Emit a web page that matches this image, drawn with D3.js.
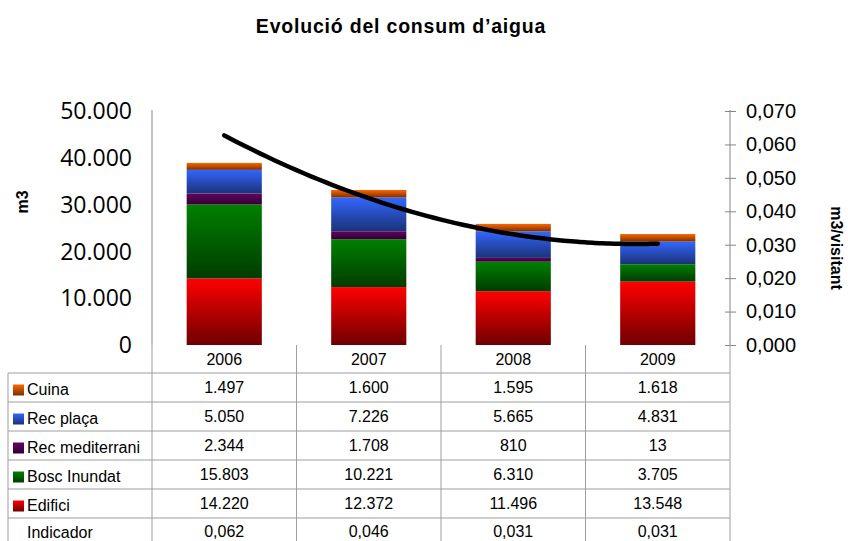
<html>
<head>
<meta charset="utf-8">
<title>Evolució del consum d'aigua</title>
<style>
  body { margin: 0; background: #fff; }
  svg { display: block; }
</style>
</head>
<body>
<svg></svg>
<script src="https://d3js.org/d3.v7.min.js"></script>
<script>
// chart data
var years = ["2006", "2007", "2008", "2009"];
var series = ["Edifici", "Bosc Inundat", "Rec mediterrani", "Rec plaça", "Cuina"];
var edifici = [14220, 12372, 11496, 13548];
var bosc = [15803, 10221, 6310, 3705];
var recMed = [2344, 1708, 810, 13];
var recPlaca = [5050, 7226, 5665, 4831];
var cuina = [1497, 1600, 1595, 1618];
var indicador = [0.062, 0.046, 0.031, 0.031];
var leftTicks = [0, 10000, 20000, 30000, 40000, 50000];
var rightTicks = [0, 0.01, 0.02, 0.03, 0.04, 0.05, 0.06, 0.07];

// colours: [top, bottom] of each gradient
var colours = {
  "Edifici": ["#ff0000", "#6e0000"],
  "Bosc Inundat": ["#008000", "#003c00"],
  "Rec mediterrani": ["#660066", "#30002f"],
  "Rec plaça": ["#3366ff", "#1a3275"],
  "Cuina": ["#ff6600", "#7a3000"]
};

var width = 848, height = 541;
var svg = d3.select("svg").attr("width", width).attr("height", height);

var margin = {left: 152, right: 118, top: 111, bottom: 196};
var plotBottom = height - margin.bottom;

var x = d3.scaleBand().domain(years).range([margin.left, width - margin.right]);
var y = d3.scaleLinear().domain([0, 50000]).range([plotBottom, margin.top]);
var y2 = d3.scaleLinear().domain([0, 0.07]).range([plotBottom, margin.top]);

// gradients
var defs = svg.append("defs");
series.forEach(function(s, i) {
  var g = defs.append("linearGradient").attr("id", "grad" + i)
    .attr("x1", 0).attr("y1", 0).attr("x2", 0).attr("y2", 1);
  g.append("stop").attr("offset", "0%").attr("stop-color", colours[s][0]);
  g.append("stop").attr("offset", "100%").attr("stop-color", colours[s][1]);
});

var arial = "Liberation Sans, Arial, sans-serif";

// title
svg.append("text")
  .attr("x", 401).attr("y", 33)
  .attr("text-anchor", "middle")
  .style("font-family", arial)
  .style("font-size", "19.5px").style("font-weight", "bold")
  .style("letter-spacing", "0.8px")
  .text("Evolució del consum d’aigua");

// stacked bars
var rows = years.map(function(yr, i) {
  return {year: yr, "Edifici": edifici[i], "Bosc Inundat": bosc[i],
    "Rec mediterrani": recMed[i], "Rec plaça": recPlaca[i], "Cuina": cuina[i]};
});
var stacked = d3.stack().keys(series)(rows);
var barW = x.bandwidth() * 0.52;

svg.append("g").selectAll("g")
  .data(stacked)
  .enter().append("g")
  .attr("fill", function(d, i) { return "url(#grad" + i + ")"; })
  .selectAll("rect")
  .data(function(d) { return d; })
  .enter().append("rect")
  .attr("x", function(d) { return x(d.data.year) + (x.bandwidth() - barW) / 2; })
  .attr("width", barW)
  .attr("y", function(d) { return y(d[1]); })
  .attr("height", function(d) { return y(d[0]) - y(d[1]); });

// left axis
var axisColor = "#868686";
svg.append("line")
  .attr("x1", margin.left).attr("x2", margin.left)
  .attr("y1", margin.top - 1).attr("y2", plotBottom)
  .attr("stroke", axisColor);
svg.append("g").selectAll("text")
  .data(leftTicks)
  .enter().append("text")
  .attr("x", 132).attr("y", function(d) { return y(d); })
  .attr("dy", "0.36em")
  .attr("text-anchor", "end")
  .style("font-family", "Open Sans, sans-serif")
  .style("font-size", "23px")
  .text(function(d) { return d3.format(",")(d).replace(/,/g, "."); });

svg.append("text")
  .attr("transform", "translate(28,202) rotate(-90)")
  .attr("text-anchor", "middle")
  .style("font-family", arial)
  .style("font-size", "16px").style("font-weight", "bold")
  .text("m3");

// right axis
var rightX = width - margin.right;
var rightAxis = d3.axisRight(y2).tickValues(rightTicks).tickSize(0)
  .tickFormat(function(d) { return d3.format(".3f")(d).replace(".", ","); });
var ra = svg.append("g").attr("transform", "translate(" + rightX + ",0)").call(rightAxis);
ra.select(".domain").attr("stroke", axisColor).attr("d", "M0," + (margin.top - 1) + "V" + plotBottom);
ra.selectAll(".tick line").attr("x1", -5).attr("x2", 6).attr("stroke", axisColor);
ra.selectAll(".tick text").attr("x", 16)
  .style("font-family", arial)
  .style("font-size", "20px").attr("fill", "#000");

svg.append("text")
  .attr("transform", "translate(831,248) rotate(90)")
  .attr("text-anchor", "middle")
  .style("font-family", arial)
  .style("font-size", "16px").style("font-weight", "bold")
  .text("m3/visitant");

// polynomial (order 2) trendline of the indicator, least squares
var n = indicador.length;
var xs = d3.range(n);
var mx = d3.mean(xs), my = d3.mean(indicador);
var p1 = xs.map(function(v) { return v - mx; });
var p1sq = d3.mean(p1.map(function(v) { return v * v; }));
var p2 = p1.map(function(v) { return v * v - p1sq; });
var b1 = d3.sum(indicador.map(function(v, i) { return v * p1[i]; })) / d3.sum(p1.map(function(v) { return v * v; }));
var b2 = d3.sum(indicador.map(function(v, i) { return v * p2[i]; })) / d3.sum(p2.map(function(v) { return v * v; }));
function trend(t) {
  var q = t - mx;
  return my + b1 * q + b2 * (q * q - p1sq);
}
var trendPts = d3.range(0, n - 1 + 0.001, 0.05).map(function(t) {
  return [x(years[0]) + x.bandwidth() / 2 + t * x.step(), y2(trend(t))];
});
svg.append("path")
  .attr("d", d3.line().curve(d3.curveBasis)(trendPts))
  .attr("fill", "none").attr("stroke", "#000")
  .attr("stroke-width", 4.5).attr("stroke-linecap", "round");

// data table
var tableColor = "#9f9f9f";
var rowH = 29;
var headerTop = plotBottom, headerH = 28;
var tableLeft = 8;
var tableRows = [
  {name: "Cuina", values: cuina, key: 4},
  {name: "Rec plaça", values: recPlaca, key: 3},
  {name: "Rec mediterrani", values: recMed, key: 2},
  {name: "Bosc Inundat", values: bosc, key: 1},
  {name: "Edifici", values: edifici, key: 0},
  {name: "Indicador", values: indicador, key: null}
];
var table = svg.append("g");

// header row with years
table.selectAll(".yr")
  .data(years).enter().append("text")
  .attr("x", function(d) { return x(d) + x.bandwidth() / 2; })
  .attr("y", headerTop + headerH / 2 + 6)
  .attr("text-anchor", "middle")
  .style("font-family", arial).style("font-size", "16px")
  .text(function(d) { return d; });

var bodyTop = headerTop + headerH;
// horizontal lines
d3.range(tableRows.length + 1).forEach(function(i) {
  table.append("line")
    .attr("x1", tableLeft).attr("x2", rightX)
    .attr("y1", bodyTop + i * rowH).attr("y2", bodyTop + i * rowH)
    .attr("stroke", tableColor);
});
// vertical lines
table.append("line").attr("x1", tableLeft).attr("x2", tableLeft)
  .attr("y1", bodyTop).attr("y2", height).attr("stroke", tableColor);
years.concat(["end"]).forEach(function(yr, i) {
  var xx = margin.left + i * x.step();
  table.append("line").attr("x1", xx).attr("x2", xx)
    .attr("y1", headerTop).attr("y2", height).attr("stroke", tableColor);
});

tableRows.forEach(function(r, i) {
  var cy = bodyTop + i * rowH + rowH / 2;
  var last = i === tableRows.length - 1;
  if (r.key !== null) {
    table.append("rect")
      .attr("x", 13).attr("y", cy - 3).attr("width", 11).attr("height", 11)
      .attr("fill", "url(#grad" + r.key + ")");
  }
  table.append("text")
    .attr("x", 27).attr("y", cy + (last ? 5.5 : 7.5))
    .style("font-family", arial).style("font-size", "16px")
    .text(r.name);
  r.values.forEach(function(v, j) {
    var txt = r.key === null ? d3.format(".3f")(v).replace(".", ",")
      : d3.format(",")(v).replace(/,/g, ".");
    table.append("text")
      .attr("x", x(years[j]) + x.bandwidth() / 2).attr("y", cy + (last ? 4 : 5.5))
      .attr("text-anchor", "middle")
      .style("font-family", arial).style("font-size", "16px")
      .text(txt);
  });
});
</script>
</body>
</html>
